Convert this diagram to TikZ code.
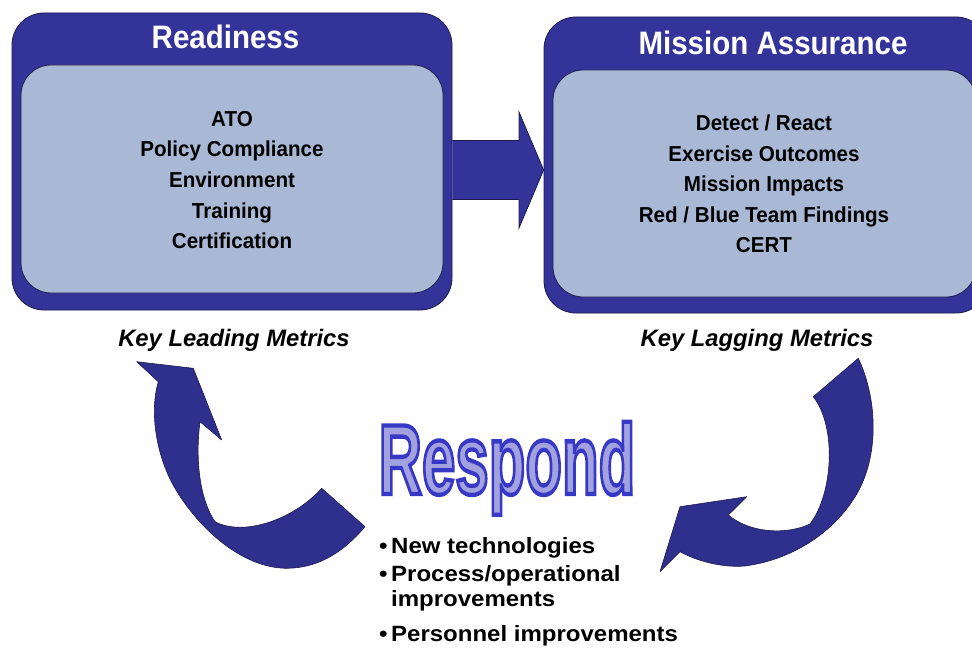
\documentclass[tikz,border=0pt]{standalone}
\usepackage{fontspec}
\setmainfont{Liberation Sans}
\usetikzlibrary{calc}
\definecolor{navy}{HTML}{333399}
\definecolor{pale}{HTML}{A9B8D5}
\definecolor{edgec}{HTML}{1C1C4A}
\definecolor{arrowc}{HTML}{2F2F8E}
\definecolor{rfill}{HTML}{A2A2DE}
\begin{document}
\begin{tikzpicture}[x=1pt,y=-1pt,
  outerbox/.style={draw=edgec, line width=0.8pt, fill=navy, rounded corners=32pt,
    inner sep=0pt, rectangle},
  innerbox/.style={draw=edgec, line width=0.8pt, fill=pale, rounded corners=30pt,
    inner sep=0pt, rectangle},
  titletext/.style={font=\bfseries\fontsize{29.5}{30}\selectfont, text=white,
    yscale=1.1, inner sep=0pt, anchor=base},
  bodytext/.style={font=\bfseries\fontsize{20.6}{24}\selectfont, text=black,
    yscale=1.05, inner sep=0pt, anchor=base},
  metrictext/.style={font=\bfseries\itshape\fontsize{23.8}{26}\selectfont, text=black,
    inner sep=0pt, anchor=base},
  listtext/.style={font=\bfseries\fontsize{24}{27.2}\selectfont, text=black,
    yscale=0.92, inner sep=0pt, anchor=base west},
  wordart/.style={font=\bfseries\fontsize{60}{60}\selectfont, yscale=1.66,
    inner sep=0pt, anchor=base},
  fatarrow/.style={fill=navy, draw=edgec, line width=0.8pt},
  curvarrow/.style={fill=arrowc, draw=edgec, line width=0.6pt, line join=round},
]
\useasboundingbox (0,0) rectangle (972,650);

% ---- boxes
\node[outerbox, minimum width=440pt, minimum height=297pt] (Lout) at (232,161.5) {};
\node[innerbox, minimum width=422pt, minimum height=228pt] (Lin) at (232,179) {};
\node[outerbox, minimum width=444pt, minimum height=296pt] (Rout) at (766,165) {};
\node[innerbox, minimum width=423pt, minimum height=227pt] (Rin) at (764.5,183.5) {};

% ---- straight fat arrow between the boxes
\coordinate (atail) at (Lout.east |- 0,170);
\coordinate (ahead) at (Rout.west |- 0,170);
\draw[fatarrow] ($(atail)+(0,-29.5)$) -- (519,140.5) -- (519,112) -- (ahead)
  -- (519,228) -- (519,199.5) -- ($(atail)+(0,29.5)$);

% ---- titles
\node[titletext] (tL) at (225.5,49) {Readiness};
\node[titletext] (tR) at (773,55) {Mission Assurance};

% ---- left box lines
\node[bodytext] (l1) at (232,126.5) {ATO};
\node[bodytext] (l2) at (232,157) {Policy Compliance};
\node[bodytext] (l3) at (232,187.5) {Environment};
\node[bodytext] (l4) at (232,218) {Training};
\node[bodytext] (l5) at (232,248.5) {Certification};

% ---- right box lines
\node[bodytext] (r1) at (764,130.5) {Detect / React};
\node[bodytext] (r2) at (764,161) {Exercise Outcomes};
\node[bodytext] (r3) at (764,191.5) {Mission Impacts};
\node[bodytext] (r4) at (764,222) {Red / Blue Team Findings};
\node[bodytext] (r5) at (764,252.5) {CERT};

% ---- metric captions
\node[metrictext] (kL) at (234,346) {Key Leading Metrics};
\node[metrictext] (kR) at (757,346) {Key Lagging Metrics};

% ---- curved arrows
\draw[curvarrow] (136.7,361.7) -- (193.3,368.3) -- (221.7,440) -- (200,421.7)
  .. controls (195,460) and (200,500) .. (215,521.7)
  .. controls (243.3,536.7) and (293.3,520) .. (321.7,488.3)
  -- (365,526.7)
  .. controls (340,556) and (315,568) .. (286.7,568.3)
  .. controls (240,568) and (195,525) .. (172,483)
  .. controls (155,450) and (150,410) .. (158.3,381.7) -- cycle;

\draw[curvarrow] (660,571.7) -- (680,506.7) -- (746.7,496.7) -- (728.3,515)
  .. controls (750,533.3) and (786.7,535) .. (810,524)
  .. controls (833.3,493.3) and (836.7,426.7) .. (813.3,396.7)
  -- (858.3,358.3)
  .. controls (878,400) and (880,460) .. (853,500)
  .. controls (830,535) and (790,560) .. (745,566)
  .. controls (720,568) and (695,560) .. (680,551.7) -- cycle;

% ---- Respond word art: light fill with a blue outline
\node[wordart] (resp) at (507,494)
  {\color{rfill}\special{pdf:literal direct 0.22 0.22 0.78 RG 2.6 w 2 Tr}Respond\special{pdf:literal direct 0 Tr}};

% ---- bullet list
\node[listtext] (b1) at (379,553.3) {\makebox[12pt][l]{•}New technologies};
\node[listtext, align=left] (b2) at (379,606.7)
  {\makebox[12pt][l]{•}Process/operational\\\hspace*{12pt}improvements};
\node[listtext] (b3) at (379,641.7) {\makebox[12pt][l]{•}Personnel improvements};
\end{tikzpicture}
\end{document}
